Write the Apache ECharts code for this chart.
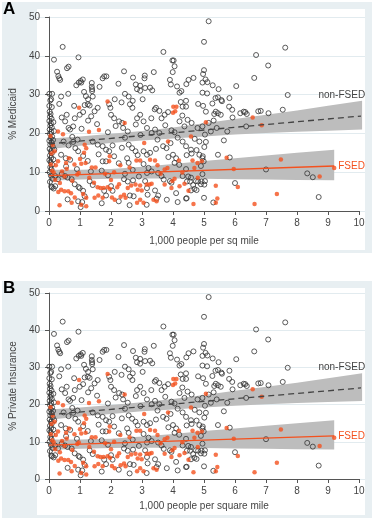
<!DOCTYPE html>
<html>
<head>
<meta charset="utf-8">
<script src="https://cdn.jsdelivr.net/npm/echarts@6/dist/echarts.min.js"></script>
<style>
  html, body { margin: 0; padding: 0; background: #fff; }
  #chart { width: 375px; height: 520px; }
</style>
</head>
<body>
<div id="chart"></div>
<script>
// x = 1,000 people per sq mile, y = percent
const xTicks = [0, 10, 1];
const yTicks = [0, 50, 10];
const panelTitles = ['A', 'B'];
const yNames = ['% Medicaid', '% Private Insurance'];
const xNames = ['1,000 people per sq mile', '1,000 people per square mile'];

// non-FSED counties (hollow circles)
const nonFsedPts = [
  [0.44,42.3],[0.16,39.0],[0.95,39.6],[0.26,35.9],[0.30,34.8],[0.33,34.2],[0.36,33.8],[0.58,36.8],[0.63,37.2],
  [0.01,30.2],[0.10,30.2],[0.39,29.5],[0.62,30.2],[0.04,28.5],[0.07,28.8],[0.01,27.1],[0.33,27.6],[0.81,27.1],
  [0.88,32.4],[0.96,33.1],[1.02,33.5],[1.09,33.9],[1.04,33.1],[1.13,30.7],[1.19,29.6],[1.26,28.8],
  [1.38,33.0],[1.38,32.0],[1.39,31.4],[1.39,30.9],[1.41,29.5],[1.15,27.3],[1.25,27.5],[1.31,27.2],
  [1.63,32.0],[1.73,34.2],[1.78,34.7],[1.85,34.7],[1.57,26.6],[1.94,27.5],[1.98,26.6],[2.12,28.8],[2.24,32.8],[2.42,36.0],
  [2.34,28.0],[2.57,29.5],[2.61,27.5],[2.70,28.4],[2.69,26.6],[2.45,30.2],[2.71,34.4],[2.80,32.6],[2.84,31.4],[2.94,32.3],[2.94,31.0],
  [3.09,34.9],[3.08,34.2],[3.10,31.7],[3.26,31.8],[3.33,31.1],[3.02,28.8],[3.38,35.8],[3.41,26.2],[3.45,26.6],
  [3.69,41.0],[3.98,38.8],[4.02,38.8],[4.05,37.3],[3.99,35.8],[3.90,33.8],[3.93,32.6],[4.13,32.1],[4.21,30.5],[4.27,30.9],
  [4.25,28.1],[4.42,28.4],[4.31,26.9],[4.42,26.9],[4.43,32.7],[4.50,33.8],[4.66,34.3],[4.81,27.6],[5.00,43.6],[5.00,36.3],
  [4.97,35.3],[4.95,33.1],[4.95,30.5],[4.97,27.1],[3.56,25.8],
  [5.15,48.9],[6.68,40.2],[7.62,42.1],[7.07,37.5],[5.05,33.9],[5.11,33.2],[5.28,32.4],[6.62,34.3],[5.47,31.4],[6.04,32.2],
  [5.10,30.3],[7.70,29.9],[5.37,29.1],[5.45,29.3],[5.56,28.6],[5.82,29.1],[5.27,27.7],[5.58,28.3],[5.81,26.9],[5.91,26.1],
  [7.54,26.1],[10.04,25.8],[6.75,25.7],[6.83,25.8],[6.28,25.6],[5.38,25.6],[5.06,25.6],
  [5.33,25.0],[5.45,25.2],[5.54,24.8],[6.17,25.2],[6.33,25.5],[6.38,25.0],[7.08,25.2],
  [5.15,22.7],[5.31,23.3],[5.22,20.5],[5.41,21.4],[5.75,20.5],[6.36,21.8],[5.92,24.1],
  [5.03,19.7],[5.06,17.8],[5.64,18.2],[5.01,16.5],[5.45,14.5],[5.83,13.8],[4.96,14.1],[4.99,12.8],
  [7.00,10.7],[8.33,9.7],[8.51,8.7],[10.07,14.3],[6.00,7.2],[5.03,7.7],[5.01,6.8],[5.00,3.4],[5.30,2.2],[8.70,3.6],
  [0.02,25.6],[0.05,25.0],[0.03,24.3],[0.08,23.8],[0.01,23.2],[0.06,22.6],[0.04,22.0],[0.09,21.5],[0.02,21.0],[0.07,20.4],
  [0.03,19.9],[0.10,19.2],[0.05,18.7],[0.01,18.1],[0.08,17.7],[0.04,17.1],[0.12,16.6],[0.02,16.0],[0.06,15.4],[0.09,14.9],
  [0.03,14.3],[0.07,13.7],[0.01,13.1],[0.05,12.6],[0.10,12.0],[0.04,11.3],[0.08,10.7],[0.02,10.0],[0.06,9.1],[0.11,8.3],
  [0.03,7.5],[0.07,6.3],[0.15,5.8],[0.09,26.8],[0.14,22.9],[0.16,20.6],[0.13,18.3],[0.17,15.8],[0.14,13.3],
  [0.41,9.5],[0.52,9.0],[0.60,8.6],[0.73,8.2],[0.83,6.9],[0.20,6.4],[0.10,6.1],[0.99,5.9],[1.10,5.2],[1.15,3.8],
  [0.94,2.5],[1.07,2.3],[1.02,1.0],[1.31,7.7],[1.41,6.7],[1.78,5.2],[1.84,4.0],[2.00,6.4],[2.05,5.2],
  [2.42,8.2],[2.54,7.6],[2.71,7.9],[2.61,4.0],[2.73,3.8],[3.10,7.7],[3.16,5.9],[3.18,4.2],[3.42,5.3],[3.52,4.0],[3.47,3.2],
  [3.90,7.7],[3.95,7.3],[4.42,3.2],[4.58,5.3],[4.69,5.7],[4.74,7.7],[4.90,6.9],
  [0.63,21.4],[0.68,21.0],[0.78,21.8],[0.52,23.1],[0.57,24.8],[0.41,24.1],[0.83,23.9],[0.99,24.8],[1.10,25.5],
  [0.47,17.9],[0.63,16.9],[0.78,17.8],[0.92,18.4],[0.39,14.5],[0.54,13.6],[0.68,13.2],[0.94,15.4],[0.85,16.2],
  [1.36,24.4],[1.47,25.7],[1.26,23.3],[1.41,17.9],[1.57,17.1],[1.73,16.7],[1.84,15.8],[1.94,15.4],[2.05,16.9],
  [1.73,12.8],[1.84,12.8],[2.10,14.1],[2.00,24.8],[2.10,23.9],[2.26,23.1],[2.36,22.7],[2.39,21.4],[2.54,20.5],
  [2.57,17.1],[2.68,16.2],[2.79,15.4],[2.86,14.4],[2.52,13.6],[2.57,12.4],[2.84,23.9],[2.94,24.8],[3.05,23.1],
  [3.16,21.4],[3.31,20.1],[3.42,21.0],[3.56,20.1],[3.05,15.4],[3.16,14.5],[3.26,15.0],[3.21,11.1],[3.16,9.8],[3.31,10.2],
  [3.63,23.9],[3.73,24.8],[3.84,25.5],[3.68,16.7],[3.79,16.2],[3.92,17.5],[4.00,14.5],[4.10,13.6],[4.05,12.4],
  [3.52,9.8],[3.63,9.0],[4.21,23.1],[4.37,21.8],[4.47,23.5],[4.31,17.9],[4.42,16.7],[4.58,15.8],
  [4.79,21.4],[4.95,21.8],[4.85,17.9],[4.42,10.8],[4.31,9.0],[4.58,8.6],[4.85,14.5],[4.95,13.6],[0.20,9.0],[0.29,8.2],
  [0.55,11.5],[0.90,10.8],[1.10,14.2],[1.25,12.9],[1.60,14.6],[1.70,10.4],[2.25,12.3],[2.35,16.3],[2.45,18.9],[2.70,10.6],
  [2.95,19.6],[3.05,12.1],[3.45,16.0],[3.50,18.4],[3.85,13.9],[3.95,20.8],[4.15,18.9],[4.20,11.9],[4.60,22.7],[4.70,18.6],
  [4.90,11.6],[1.90,20.3],[1.55,22.4],[1.05,21.2],[0.75,19.1],[2.15,21.9],[2.80,22.3],[3.30,23.9],[3.75,22.1],[4.05,20.3],
  [4.30,24.6],[1.35,10.2],[1.90,9.2],[2.45,9.6],[2.90,8.9],[3.70,8.1],[4.10,4.6],[4.95,9.5],[0.60,3.0],[0.95,6.2],
  [1.70,2.0],[2.25,2.5],[2.60,1.5],[3.15,1.6],[3.80,2.9],[4.15,2.3],[4.45,7.6],
  [4.49,8.9],[4.55,7.6],[4.65,6.7],[4.81,7.6],[4.92,7.6],[4.76,5.4],[4.44,3.3],[4.44,14.4],[4.60,14.8],[4.76,15.7]
];

// FSED counties (filled orange dots)
const fsedPts = [
  [0.97,26.6],[1.89,28.2],[4.01,26.9],[4.11,26.9],
  [0.29,20.5],[0.45,19.8],[0.18,15.4],[0.10,10.4],[0.29,12.8],[0.64,13.6],[0.57,10.9],[1.29,20.4],[1.61,20.9],
  [1.15,17.1],[1.20,16.2],[1.13,15.0],[1.04,12.2],[1.18,12.4],[0.91,9.4],[0.96,9.8],[1.38,11.2],[1.50,11.2],[1.81,9.6],
  [1.96,14.1],[1.94,12.8],[2.44,22.7],[2.82,13.0],[2.94,13.0],[3.07,17.5],[3.26,13.2],[3.42,13.0],[3.84,17.9],
  [4.00,25.3],[4.07,25.7],[4.19,13.0],[3.50,11.8],[3.73,10.7],[3.82,11.1],[4.63,13.0],[4.79,12.4],[4.93,12.8],[4.69,11.1],[4.58,19.2],
  [0.39,5.5],[0.50,5.1],[0.62,5.1],[0.71,4.6],[0.34,1.5],[0.73,2.1],[0.83,3.5],[1.10,4.4],[1.20,3.4],[1.04,1.6],[1.20,1.2],
  [1.57,6.1],[1.66,5.9],[1.76,5.9],[1.89,6.1],[1.97,5.7],[1.47,3.4],[1.59,4.0],[1.73,3.4],[2.03,3.5],[2.12,2.9],
  [2.31,3.7],[2.42,4.2],[2.47,3.4],[2.20,6.1],[2.26,6.9],[2.54,5.9],[2.65,6.6],[2.79,6.8],[2.86,5.5],[2.94,6.6],[2.99,5.3],
  [3.15,6.8],[3.24,6.8],[3.31,7.0],[2.94,2.9],[3.05,2.1],[2.84,2.1],[3.37,2.9],[3.47,2.5],[3.73,6.8],[3.95,5.9],
  [4.21,6.4],[4.37,7.0],[3.98,7.7],[4.05,8.3],[4.66,1.8],
  [5.06,22.9],[6.57,24.1],[6.86,22.1],[5.73,13.7],[7.48,13.3],[5.96,10.8],[9.20,11.1],[8.73,8.9],
  [5.38,6.5],[6.09,6.2],[7.35,4.4],[5.43,3.2],[5.38,2.1],[6.63,1.8],
  [0.05,19.3],[0.12,17.0],[0.08,14.8],[0.22,11.8],[0.15,9.9],[0.20,8.0],[0.35,7.2],[0.06,12.0],[0.42,10.2],[0.50,8.9],
  [0.30,4.9],[0.55,12.4],[0.82,12.0],[0.75,7.8],[1.30,8.6],[1.45,7.3],[2.10,10.0],[2.60,11.2],[2.30,11.8],[3.60,9.6],
  [4.30,9.9],[4.50,5.2],[4.80,8.6],[2.00,8.0],[1.00,13.4]
];

// fitted lines and 95% bands
const nfLineX = [0, 10.1];
const nfLineY = [17.3, 24.5];
const nfBandX = [0, 1, 2, 3, 4, 5, 6, 7, 8, 9, 10.1];
const nfLower = [15.9, 16.8, 17.5, 18.2, 18.7, 19.2, 19.7, 20.1, 20.4, 20.7, 21.0];
const nfUpper = [18.7, 19.2, 19.9, 20.6, 21.5, 22.6, 23.7, 24.8, 25.9, 27.1, 28.4];

const fsLineX = [0, 9.2];
const fsLineY = [9.1, 11.6];
const fsBandX = [0, 1, 2, 3, 4, 5, 6, 7, 8, 9.2];
const fsLower = [7.8, 8.1, 8.3, 8.4, 8.4, 8.3, 8.2, 8.1, 8.0, 7.9];
const fsUpper = [10.6, 10.6, 10.8, 11.4, 12.1, 12.9, 13.6, 14.3, 15.0, 15.8];

const orange = '#f4511e';
const bandColor = '#bdbdbd';
const font = 'Liberation Sans, Arial, sans-serif';

// panel boxes
const panels = [
  { top: 2, h: 251, gTop: 17, gH: 194, gap: 22 },
  { top: 281, h: 237, gTop: 293, gH: 186, gap: 19 }
];

const chart = echarts.init(document.getElementById('chart'));

const grids = [], xAxes = [], yAxes = [], series = [], graphics = [];

// confidence band as one polygon: upper edge forward, lower edge back
function bandSeries(i, bx, lo, hi) {
  return {
    type: 'custom', xAxisIndex: i, yAxisIndex: i, silent: true,
    data: bx.map((x, k) => [x, lo[k], hi[k]]),
    encode: { x: 0, y: [1, 2] },
    renderItem: (params, api) => {
      if (params.dataIndex !== 0) return;
      const pts = [];
      bx.forEach((x, k) => pts.push(api.coord([x, hi[k]])));
      for (let k = bx.length - 1; k >= 0; k--) pts.push(api.coord([bx[k], lo[k]]));
      return { type: 'polygon', shape: { points: pts }, style: { fill: bandColor } };
    }
  };
}

panels.forEach((p, i) => {
  grids.push({ left: 43, right: 16, top: p.gTop, height: p.gH });
  xAxes.push({
    gridIndex: i, type: 'value', min: xTicks[0], max: xTicks[1], interval: xTicks[2], offset: 3,
    name: xNames[i], nameLocation: 'middle', nameGap: p.gap,
    nameTextStyle: { fontSize: 10, color: '#444', fontFamily: font },
    axisLine: { show: true, lineStyle: { color: '#555', width: 1 } },
    axisTick: { show: true, length: 4, lineStyle: { color: '#555' } },
    axisLabel: { fontSize: 10, color: '#444', margin: 4, fontFamily: font },
    splitLine: { show: false }
  });
  yAxes.push({
    gridIndex: i, type: 'value', min: yTicks[0], max: yTicks[1], interval: yTicks[2], offset: 6,
    name: yNames[i], nameLocation: 'middle', nameGap: 21,
    nameTextStyle: { fontSize: 10, color: '#444', fontFamily: font },
    axisLine: { show: true, lineStyle: { color: '#555', width: 1 } },
    axisTick: { show: true, length: 4, lineStyle: { color: '#555' } },
    axisLabel: { fontSize: 10, color: '#444', margin: 3, fontFamily: font },
    splitLine: { show: false }
  });

  graphics.push(
    { type: 'rect', z: -10, shape: { x: 2, y: p.top, width: 370, height: p.h }, style: { fill: '#e8eff2' } },
    { type: 'rect', z: -9, shape: { x: 37, y: p.top + 7, width: 328, height: p.h - 10 }, style: { fill: '#fff' } },
    { type: 'text', z: 100, left: 3, top: p.top - 1,
      style: { text: panelTitles[i], font: 'bold 17px ' + font, fill: '#000' } }
  );

  series.push(bandSeries(i, nfBandX, nfLower, nfUpper));
  series.push(bandSeries(i, fsBandX, fsLower, fsUpper));

  series.push({
    type: 'scatter', xAxisIndex: i, yAxisIndex: i, symbolSize: 5,
    itemStyle: { color: 'rgba(0,0,0,0)', borderColor: '#333', borderWidth: 1 },
    data: nonFsedPts
  });
  series.push({
    type: 'scatter', xAxisIndex: i, yAxisIndex: i, symbolSize: 4.5,
    itemStyle: { color: orange },
    data: fsedPts
  });
  series.push({
    type: 'line', xAxisIndex: i, yAxisIndex: i, symbol: 'none',
    lineStyle: { color: '#444', width: 1.3, type: [6, 4] },
    data: nfLineX.map((x, k) => [x, nfLineY[k]])
  });
  series.push({
    type: 'line', xAxisIndex: i, yAxisIndex: i, symbol: 'none',
    lineStyle: { color: orange, width: 1.3 },
    endLabel: { show: true, formatter: 'FSED', color: orange, fontSize: 10, fontFamily: font, distance: 4 },
    data: fsLineX.map((x, k) => [x, fsLineY[k]])
  });
});

// wider grids only for the horizontal grid lines across the plot region
panels.forEach((p, i) => {
  grids.push({ left: 37, right: 10, top: p.gTop, height: p.gH });
  xAxes.push({ gridIndex: 2 + i, type: 'value', min: 0, max: 1, show: false });
  yAxes.push({
    gridIndex: 2 + i, type: 'value', min: yTicks[0], max: yTicks[1], interval: yTicks[2],
    axisLine: { show: false }, axisTick: { show: false }, axisLabel: { show: false },
    splitLine: { show: true, lineStyle: { color: '#e2ebef', width: 1 } }
  });
});

chart.setOption({
  animation: false,
  backgroundColor: '#fff',
  grid: grids,
  xAxis: xAxes,
  yAxis: yAxes,
  graphic: graphics,
  series: series
});

// "non-FSED" label sits on the upper right corner of its band
const nfEnd = [nfBandX[nfBandX.length - 1], nfUpper[nfUpper.length - 1]];
panels.forEach((p, i) => {
  const pos = chart.convertToPixel({ gridIndex: i }, nfEnd);
  graphics.push({
    type: 'text', z: 100, x: pos[0] + 3, y: pos[1] - 1,
    style: { text: 'non-FSED', fill: '#444', font: '10px ' + font, align: 'right', verticalAlign: 'bottom' }
  });
});
chart.setOption({ graphic: graphics });
</script>
</body>
</html>
